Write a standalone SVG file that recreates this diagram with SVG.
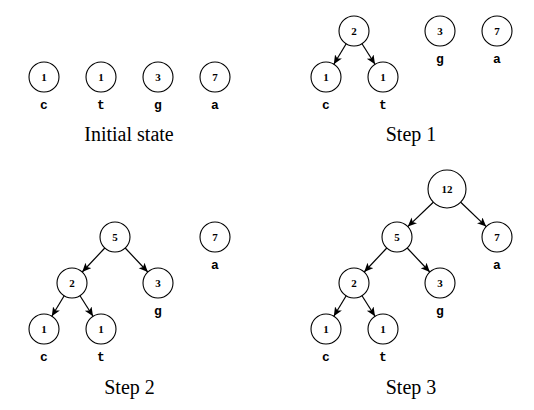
<svg xmlns="http://www.w3.org/2000/svg" width="534" height="410" viewBox="0 0 534 410">
<style>
  .n circle { fill: #fff; stroke: #000; stroke-width: 1.1; }
  .n text.v { font-family: "Liberation Serif", serif; font-size: 11px; font-weight: bold; text-anchor: middle; fill: #000; }
  .n text.l { font-family: "Liberation Mono", monospace; font-size: 13px; font-weight: bold; text-anchor: middle; fill: #000; }
  .cap { font-family: "Liberation Serif", serif; font-size: 20px; text-anchor: middle; fill: #000; }
  .e line { stroke: #000; stroke-width: 1.2; marker-end: url(#ah); }
</style>
<defs>
  <marker id="ah" markerUnits="userSpaceOnUse" markerWidth="11" markerHeight="9" refX="9" refY="4" orient="auto">
    <path d="M0,0 L9,4 L0,8 L2.2,4 z" fill="#000"/>
  </marker>
</defs>
<rect width="534" height="410" fill="#fff"/>

<!-- Initial state -->
<g id="init-c" class="n"><circle cx="44" cy="77" r="15"/><text class="v" x="44" y="80.8">1</text><text class="l" x="44" y="109">c</text></g>
<g id="init-t" class="n"><circle cx="101" cy="77" r="15"/><text class="v" x="101" y="80.8">1</text><text class="l" x="101" y="109">t</text></g>
<g id="init-g" class="n"><circle cx="158" cy="77" r="15"/><text class="v" x="158" y="80.8">3</text><text class="l" x="158" y="109">g</text></g>
<g id="init-a" class="n"><circle cx="215" cy="77" r="15"/><text class="v" x="215" y="80.8">7</text><text class="l" x="215" y="109">a</text></g>
<text class="cap" x="129" y="141">Initial state</text>

<!-- Step 1 -->
<g id="s1-2" class="n"><circle cx="354" cy="31" r="15"/><text class="v" x="354" y="34.8">2</text></g>
<g id="s1-c" class="n"><circle cx="326" cy="77" r="15"/><text class="v" x="326" y="80.8">1</text><text class="l" x="326" y="109">c</text></g>
<g id="s1-t" class="n"><circle cx="383" cy="77" r="15"/><text class="v" x="383" y="80.8">1</text><text class="l" x="383" y="109">t</text></g>
<g id="s1-g" class="n"><circle cx="440" cy="31" r="15"/><text class="v" x="440" y="34.8">3</text><text class="l" x="440" y="63">g</text></g>
<g id="s1-a" class="n"><circle cx="497" cy="31" r="15"/><text class="v" x="497" y="34.8">7</text><text class="l" x="497" y="63">a</text></g>
<text class="cap" x="411" y="141">Step 1</text>

<!-- Step 2 -->
<g id="s2-5" class="n"><circle cx="115" cy="237" r="15"/><text class="v" x="115" y="240.8">5</text></g>
<g id="s2-a" class="n"><circle cx="215" cy="237" r="15"/><text class="v" x="215" y="240.8">7</text><text class="l" x="215" y="269">a</text></g>
<g id="s2-2" class="n"><circle cx="72" cy="283" r="15"/><text class="v" x="72" y="286.8">2</text></g>
<g id="s2-g" class="n"><circle cx="158" cy="283" r="15"/><text class="v" x="158" y="286.8">3</text><text class="l" x="158" y="315">g</text></g>
<g id="s2-c" class="n"><circle cx="44" cy="329" r="15"/><text class="v" x="44" y="332.8">1</text><text class="l" x="44" y="361">c</text></g>
<g id="s2-t" class="n"><circle cx="101" cy="329" r="15"/><text class="v" x="101" y="332.8">1</text><text class="l" x="101" y="361">t</text></g>
<text class="cap" x="129.5" y="393.5">Step 2</text>

<!-- Step 3 -->
<g id="s3-12" class="n"><circle cx="447" cy="189" r="19"/><text class="v" x="447" y="192.8">12</text></g>
<g id="s3-5" class="n"><circle cx="397" cy="237" r="15"/><text class="v" x="397" y="240.8">5</text></g>
<g id="s3-a" class="n"><circle cx="497" cy="237" r="15"/><text class="v" x="497" y="240.8">7</text><text class="l" x="497" y="269">a</text></g>
<g id="s3-2" class="n"><circle cx="354" cy="283" r="15"/><text class="v" x="354" y="286.8">2</text></g>
<g id="s3-g" class="n"><circle cx="440" cy="283" r="15"/><text class="v" x="440" y="286.8">3</text><text class="l" x="440" y="315">g</text></g>
<g id="s3-c" class="n"><circle cx="326" cy="329" r="15"/><text class="v" x="326" y="332.8">1</text><text class="l" x="326" y="361">c</text></g>
<g id="s3-t" class="n"><circle cx="383" cy="329" r="15"/><text class="v" x="383" y="332.8">1</text><text class="l" x="383" y="361">t</text></g>
<text class="cap" x="411" y="393.5">Step 3</text>

<!-- connectors -->
<g id="edges" class="e">
  <line x1="346.2" y1="43.8" x2="333.8" y2="64.2"/>
  <line x1="362.0" y1="43.7" x2="375.0" y2="64.3"/>
  <line x1="104.8" y1="248.0" x2="82.2" y2="272.0"/>
  <line x1="125.2" y1="248.0" x2="147.8" y2="272.0"/>
  <line x1="64.2" y1="295.8" x2="51.8" y2="316.2"/>
  <line x1="80.0" y1="295.7" x2="93.0" y2="316.3"/>
  <line x1="433.3" y1="202.2" x2="407.8" y2="226.6"/>
  <line x1="460.7" y1="202.2" x2="486.2" y2="226.6"/>
  <line x1="386.8" y1="248.0" x2="364.2" y2="272.0"/>
  <line x1="407.2" y1="248.0" x2="429.8" y2="272.0"/>
  <line x1="346.2" y1="295.8" x2="333.8" y2="316.2"/>
  <line x1="362.0" y1="295.7" x2="375.0" y2="316.3"/>
</g>
</svg>
